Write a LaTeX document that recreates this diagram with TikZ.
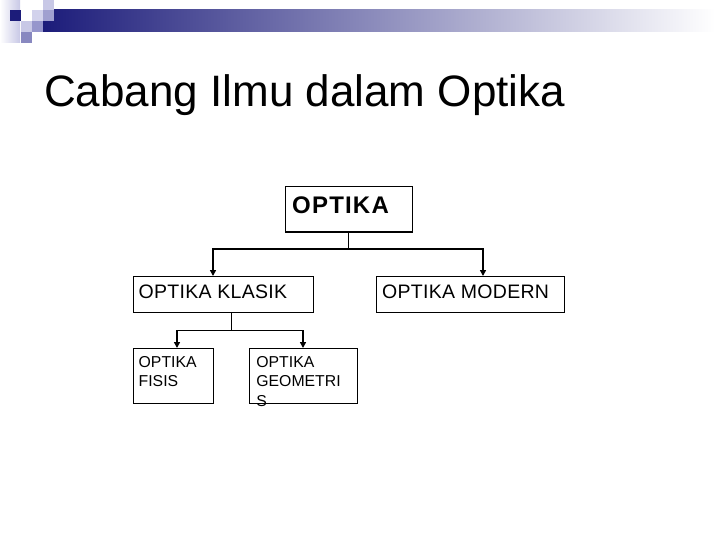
\documentclass[tikz,border=0pt]{standalone}
\usepackage{fontspec}
\setmainfont{Liberation Sans}
\usetikzlibrary{arrows.meta}
\definecolor{navy}{RGB}{28,28,122}
\definecolor{lav1}{RGB}{200,200,230}
\definecolor{lav2}{RGB}{210,210,236}
\definecolor{lav3}{RGB}{160,160,208}
\definecolor{lav4}{RGB}{150,150,204}
\definecolor{lav5}{RGB}{136,136,192}
\tikzset{
  box/.style={draw=black, line width=1pt, inner sep=0pt, fill=white},
  lbl/.style={anchor=base west, inner sep=0pt, text=black},
  multi/.style={lbl, align=left, text width=110pt},
  conn/.style={draw=black, line width=1.5pt},
  stem/.style={draw=black, line width=1pt},
  arr/.style={conn, -{Triangle[length=6pt,width=6pt]}},
}
\begin{document}
\begin{tikzpicture}[x=1pt,y=-1pt]
\useasboundingbox (0,0) rectangle (720,540);
% header decoration
\shade[left color=white, right color=lav1] (0,0) rectangle (20,43);
\shade[left color=navy, right color=white] (43,10) rectangle (715,32);
\fill[navy] (10,10) rectangle (21,21);
\fill[lav1] (43,0) rectangle (54,10);
\fill[lav2] (32,10) rectangle (43,21);
\fill[lav3] (43,10) rectangle (54,21);
\fill[lav1] (21,21) rectangle (32,32);
\fill[lav4] (32,21) rectangle (43,32);
\fill[lav5] (21,32) rectangle (32,43);
% title
\node[lbl, font=\fontsize{44}{50}\selectfont] (title) at (44,107) {Cabang Ilmu dalam Optika};
% boxes
\node[box, minimum width=127pt, minimum height=45pt] (optika) at (348.5,209.5) {};
\node[box, minimum width=180pt, minimum height=36pt] (klasik) at (223,294) {};
\node[box, minimum width=188pt, minimum height=36pt] (modern) at (470,294) {};
\node[box, minimum width=80pt, minimum height=55pt] (fisis) at (173,375.5) {};
\node[box, minimum width=108pt, minimum height=55pt] (geom) at (303,375.5) {};
% labels
\node[lbl, font=\fontsize{24}{28}\selectfont\bfseries\addfontfeatures{LetterSpace=5}] (toptika) at (292,214) {OPTIKA};
\node[lbl, font=\fontsize{19.5}{23}\selectfont\addfontfeatures{LetterSpace=1.5}] (tklasik) at (138.5,298.5) {OPTIKA KLASIK};
\node[lbl, font=\fontsize{19.5}{23}\selectfont\addfontfeatures{LetterSpace=1.5}] (tmodern) at (382,298.5) {OPTIKA MODERN};
\node[multi, font=\fontsize{15.8}{19.5}\selectfont] (tfisis) at (138.5,367) {OPTIKA\\FISIS};
\node[multi, font=\fontsize{15.8}{19.5}\selectfont] (tgeom) at (256.2,367) {OPTIKA\\GEOMETRI\\S};
% connectors
\coordinate (bus1) at (348.5,249);
\coordinate (kin) at (213,276);
\coordinate (min) at (483,276);
\draw[stem] (optika.south) -- (bus1);
\draw[arr] (bus1) -| (kin);
\draw[arr] (bus1) -| (min);
\coordinate (bus2) at (231.7,330.5);
\coordinate (fin) at (177,348);
\coordinate (gin) at (303,348);
\draw[stem] (klasik.south -| bus2) -- (bus2);
\draw[arr] (bus2) -| (fin);
\draw[arr] (bus2) -| (gin);
\end{tikzpicture}
\end{document}
